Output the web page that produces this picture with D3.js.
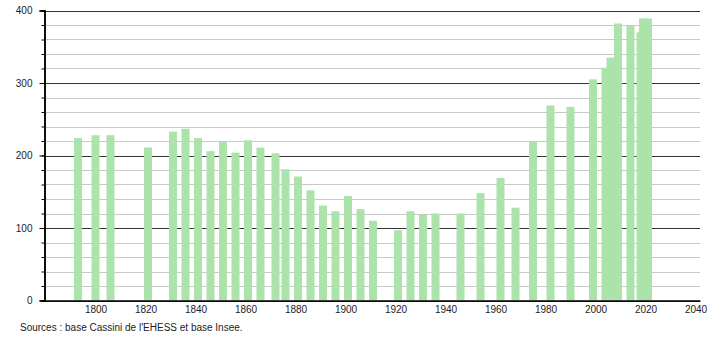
<!DOCTYPE html>
<html>
<head>
<meta charset="utf-8">
<script src="https://cdn.jsdelivr.net/npm/d3@7"></script>
<style>
    body { margin: 0; background: #fff; }
    svg text { font-family: "Liberation Sans", Arial, sans-serif; fill: #222; }
</style>
</head>
<body>
<svg id="chart" width="710" height="340"></svg>
<script>
// census years and population
const years = [1793, 1800, 1806, 1821, 1831, 1836, 1841, 1846, 1851, 1856,
    1861, 1866, 1872, 1876, 1881, 1886, 1891, 1896, 1901, 1906,
    1911, 1921, 1926, 1931, 1936, 1946, 1954, 1962, 1968, 1975,
    1982, 1990, 1999, 2004, 2006, 2009, 2014, 2018, 2019, 2021];
const population = [224, 228, 228, 211, 233, 237, 224, 206, 219, 204,
    221, 211, 203, 181, 171, 152, 131, 123, 144, 126,
    110, 97, 123, 118, 120, 120, 148, 169, 128, 220,
    269, 267, 305, 321, 335, 382, 379, 370, 389, 389];
const xTicks = [1800, 1820, 1840, 1860, 1880, 1900, 1920, 1940, 1960, 1980, 2000, 2020, 2040];
const yMajor = [0, 100, 200, 300, 400];
const yMinor = d3.range(0, 401, 20);
const source = "Sources : base Cassini de l'EHESS et base Insee.";

const svg = d3.select('#chart');
const plotLeft = 44.5;
const plotRight = 700;
const plotTop = 10.5;
const plotBottom = 300.5;

const x = d3.scaleLinear()
    .domain([1779.6, 2041.8])
    .range([plotLeft, plotRight]);
const y = d3.scaleLinear()
    .domain([0, 400])
    .range([plotBottom, plotTop]);

// minor grid, then major grid
svg.append('g')
    .selectAll('line')
    .data(yMinor.filter(d => d % 100 !== 0))
    .join('line')
    .attr('x1', plotLeft)
    .attr('x2', plotRight)
    .attr('y1', d => Math.round(y(d)) + 0.5)
    .attr('y2', d => Math.round(y(d)) + 0.5)
    .attr('stroke', '#c8c8c8')
    .attr('stroke-width', 1);

svg.append('g')
    .selectAll('line')
    .data(yMajor)
    .join('line')
    .attr('x1', plotLeft)
    .attr('x2', plotRight)
    .attr('y1', d => Math.round(y(d)) + 0.5)
    .attr('y2', d => Math.round(y(d)) + 0.5)
    .attr('stroke', '#333')
    .attr('stroke-width', 1);

// bars
const barWidth = 8;
svg.append('g')
    .selectAll('rect')
    .data(years.map((yr, i) => ({ yr, v: population[i] })))
    .join('rect')
    .attr('x', d => x(d.yr) - barWidth / 2)
    .attr('y', d => y(d.v))
    .attr('width', barWidth)
    .attr('height', d => y(0) - y(d.v))
    .attr('fill', '#abe3ab');

// y axis with long ticks at hundreds, short at twenties
const yAxis = d3.axisLeft(y)
    .tickValues(yMajor)
    .tickSize(5)
    .tickPadding(7)
    .tickFormat(d3.format('d'));
const yAxisMinor = d3.axisLeft(y)
    .tickValues(yMinor)
    .tickSize(3)
    .tickFormat('');

const gy = svg.append('g')
    .attr('transform', `translate(${plotLeft},0)`)
    .call(yAxis);
svg.append('g')
    .attr('transform', `translate(${plotLeft},0)`)
    .call(yAxisMinor);
svg.selectAll('.tick line').attr('stroke', '#000');
svg.selectAll('.domain').attr('stroke', '#000').attr('stroke-width', 1.5);
gy.selectAll('text')
    .attr('font-size', 10)
    .attr('font-family', '"Liberation Sans", Arial, sans-serif');

// x axis: baseline only, labels beneath
const xAxis = d3.axisBottom(x)
    .tickValues(xTicks)
    .tickSize(0)
    .tickPadding(5)
    .tickFormat(d3.format('d'));
const gx = svg.append('g')
    .attr('transform', `translate(0,${plotBottom})`)
    .call(xAxis);
gx.select('.domain').attr('stroke', '#000').attr('stroke-width', 1.5);
gx.selectAll('text')
    .attr('font-size', 10)
    .attr('font-family', '"Liberation Sans", Arial, sans-serif');

svg.append('text')
    .attr('x', 20)
    .attr('y', 331)
    .attr('font-size', 10)
    .text(source);
</script>
</body>
</html>
